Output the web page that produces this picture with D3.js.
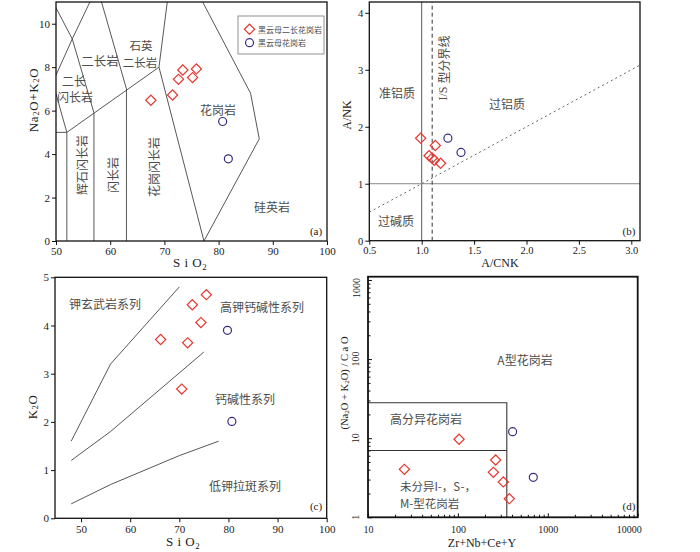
<!DOCTYPE html>
<html><head><meta charset="utf-8">
<script src="https://cdn.jsdelivr.net/npm/d3@7"></script>
<style>body{margin:0;background:#fff}</style>
</head><body>
<svg id="c" width="700" height="552"></svg>
<script>
// ---------- DATA ----------
// (a) TAS  SiO2 vs Na2O+K2O
const tasDiamonds = [[67.5,6.48],[71.5,6.72],[72.6,7.44],[73.4,7.87],[75.2,7.52],[75.9,7.92]];
const tasCircles  = [[80.75,5.5],[81.8,3.78]];
const tasLines = [
  [[52,0],[52,5],[50,5]],
  [[52,5],[69,8]],
  [[57,0],[57,5.9]],
  [[63,0],[63,7]],
  [[69,8],[77.3,0]],
  [[77.3,0],[87.5,4.7],[85.9,6.8],[71.8,13.5]],
  [[69,8],[71.8,13.5]],
  [[63,7],[57.6,11.7]],
  [[57,5.9],[53,9.3],[48.4,11.5]],
  [[49.4,7.3],[53,9.3],[57.6,11.7]],
  [[49.4,7.3],[52,5]]
];
const tasXTicks = [50,60,70,80,90,100];
const tasYTicks = [0,2,4,6,8,10];
// (b) A/CNK vs A/NK
const acnkDiamonds = [[0.99,1.80],[1.13,1.67],[1.07,1.49],[1.10,1.45],[1.12,1.41],[1.18,1.36]];
const acnkCircles  = [[1.25,1.80],[1.375,1.55]];
const acnkXTicks = [0.5,1.0,1.5,2.0,2.5,3.0];
const acnkYTicks = [0,1,2,3,4];
// (c) SiO2 vs K2O
const k2oDiamonds = [[66.2,3.71],[70.5,2.68],[71.7,3.64],[72.65,4.43],[74.4,4.06],[75.5,4.64]];
const k2oCircles  = [[79.8,3.90],[80.7,2.01]];
const k2oLines = [
  [[48,1.6],[56,3.2],[70,4.8]],
  [[48,1.2],[56,1.8],[75,3.45]],
  [[48,0.3],[56,0.7],[70,1.3],[78,1.6]]
];
const k2oXTicks = [50,60,70,80,90,100];
const k2oYTicks = [0,1,2,3,4,5];
// (d) Zr+Nb+Ce+Y vs (Na2O+K2O)/CaO
const whalenDiamonds = [[25.4,4.04],[103,9.7],[263,5.3],[248,3.7],[320,2.8],[373,1.72]];
const whalenCircles  = [[406,12.1],[690,3.2]];
const whalenFG  = [[10,28],[350,28],[350,1]];
const whalenOGT = [[10,7],[350,7]];
const whalenXTicks = [10,100,1000,10000];
const whalenYTicks = [1,10,100,1000];
const legendLabels = ["黑云母二长花岗岩","黑云母花岗岩"];

// ---------- DRAW ----------
const svg = d3.select('#c');
svg.append('rect').attr('width',700).attr('height',552).attr('fill','#fff');
const SERIF = '"Liberation Serif","Times New Roman",serif';
const CJK = '"Noto Sans CJK SC","Noto Sans",sans-serif';
const TXT = '#4d4d4d';
const RED = '#e8352d', BLUE = '#3c2b7e', LINE = '#555';
const fmtInt = d3.format('d');
let clipId = 0;

function panel(xs, ys){
  const g = svg.append('g');
  const [x0,x1] = xs.range(), [yb,yt] = ys.range();
  const id = 'clip'+(clipId++);
  g.append('clipPath').attr('id',id).append('rect')
    .attr('x',x0).attr('y',yt).attr('width',x1-x0).attr('height',yb-yt);
  const inner = g.append('g').attr('clip-path',`url(#${id})`);
  return {g, inner, x0, x1, yb, yt};
}
function frame(p, w){
  p.g.append('rect').attr('x',p.x0).attr('y',p.yt).attr('width',p.x1-p.x0).attr('height',p.yb-p.yt)
    .attr('fill','none').attr('stroke','#111').attr('stroke-width',w||1.3);
}
function styleAxis(sel, fs){
  sel.select('.domain').remove();
  sel.selectAll('line').attr('stroke','#111').attr('stroke-width',1);
  sel.selectAll('text').attr('font-family',SERIF).attr('font-size',fs).attr('fill','#222');
}
function lines(p, xs, ys, arr, color, width, dash){
  const ln = d3.line().x(d=>xs(d[0])).y(d=>ys(d[1]));
  p.inner.selectAll(null).data(arr).join('path').attr('d',ln)
    .attr('fill','none').attr('stroke',color||LINE).attr('stroke-width',width||0.9)
    .attr('stroke-dasharray',dash||null);
}
function diamonds(g, xs, ys, data){
  g.selectAll(null).data(data).join('path')
    .attr('d', d3.symbol(d3.symbolSquare, 52)())
    .attr('transform', d=>`translate(${xs(d[0])},${ys(d[1])}) rotate(45)`)
    .attr('fill','none').attr('stroke',RED).attr('stroke-width',1.2);
}
function circles(g, xs, ys, data){
  g.selectAll(null).data(data).join('circle')
    .attr('cx',d=>xs(d[0])).attr('cy',d=>ys(d[1])).attr('r',4)
    .attr('fill','none').attr('stroke',BLUE).attr('stroke-width',1.2);
}
function label(g, x, y, t, fs, rot, anchor){
  const el = g.append('text').attr('x',x).attr('y',y).text(t)
    .attr('font-family',CJK).attr('font-size',fs||12).attr('fill',TXT)
    .attr('text-anchor',anchor||'middle').attr('dominant-baseline','central');
  if (rot) el.attr('transform',`rotate(${rot},${x},${y})`);
  return el;
}
function plabel(g, x, y, t){
  g.append('text').attr('x',x).attr('y',y).text(t).attr('font-family',SERIF)
    .attr('font-size',11).attr('fill','#222').attr('text-anchor','middle').attr('dominant-baseline','central');
}
// formula text with subscripts: parts = [[text, sub?],...]
function formula(g, x, y, parts, fs, rot, ls){
  const el = g.append('text').attr('x',x).attr('y',y).attr('font-family',SERIF)
    .attr('font-size',fs).attr('fill','#222').attr('text-anchor','middle')
    .attr('letter-spacing', ls||0);
  let sub = false;
  parts.forEach(([t,s])=>{
    const ts = el.append('tspan').text(t);
    if (s && !sub){ ts.attr('dy', fs*0.25).attr('font-size', fs*0.68); sub = true; }
    else if (s){ ts.attr('font-size', fs*0.68); }
    else if (!s && sub){ ts.attr('dy', -fs*0.25); sub = false; }
  });
  if (rot) el.attr('transform',`rotate(${rot},${x},${y})`);
  return el;
}

// ===== (a) =====
{
  const xs = d3.scaleLinear([50,100],[56,327]);
  const ys = d3.scaleLinear([0,11],[241,2]);
  const p = panel(xs, ys);
  lines(p, xs, ys, tasLines, '#444', 0.9);
  const g = p.g;
  label(g, 74, 80, '二长'); label(g, 75, 96, '闪长岩');
  label(g, 100, 60, '二长岩', 12.5);
  label(g, 141, 45, '石英', 11.5); label(g, 140, 62, '二长岩', 11.5);
  label(g, 218, 109, '花岗岩');
  label(g, 272, 206, '硅英岩');
  label(g, 81, 165, '辉石闪长岩', 12, -90);
  label(g, 112, 175, '闪长岩', 12, -90);
  label(g, 153, 167, '花岗闪长岩', 12, -90);
  plabel(g, 316, 231, '(a)');
  diamonds(g, xs, ys, tasDiamonds);
  circles(g, xs, ys, tasCircles);
  // legend
  const lg = g.append('g');
  lg.append('rect').attr('x',238).attr('y',16).attr('width',86).attr('height',38)
    .attr('fill','#fff').attr('stroke','#777').attr('stroke-width',0.8);
  diamonds(lg, v=>v, v=>v, [[249.5,29.3]]);
  circles(lg, v=>v, v=>v, [[249.5,42.7]]);
  legendLabels.forEach((t,i)=> label(lg, 258, 29.3 + i*13.4, t, 8, 0, 'start'));
  frame(p);
  g.append('g').attr('transform','translate(0,241)')
    .call(d3.axisBottom(xs).tickValues(tasXTicks).tickFormat(fmtInt).tickSize(4).tickPadding(2)).call(s=>styleAxis(s,11));
  g.append('g').attr('transform','translate(56,0)')
    .call(d3.axisLeft(ys).tickValues(tasYTicks).tickFormat(fmtInt).tickSize(4).tickPadding(2)).call(s=>styleAxis(s,11));
  formula(g, 33, 100, [['Na'],['2',1],['O+K'],['2',1],['O']], 13, -90, 0.6).attr('dominant-baseline','central');
  formula(g, 190, 267, [['S i O'],['2',1]], 13, 0, 0.5);
}

// ===== (b) =====
{
  const xs = d3.scaleLinear([0.5,3.083],[369.3,640]);
  const ys = d3.scaleLinear([0,4.19],[240.7,2]);
  const p = panel(xs, ys);
  const g = p.g;
  lines(p, xs, ys, [[[1,0],[1,5]]], '#555', 1);
  lines(p, xs, ys, [[[0.5,1],[3.2,1]]], '#888', 1);
  lines(p, xs, ys, [[[1.1,0],[1.1,5]]], '#333', 1, '4,3');
  lines(p, xs, ys, [[[0.5,0.5],[3.2,3.2]]], '#666', 1, '2,3');
  label(g, 397, 92, '准铝质');
  label(g, 507, 103, '过铝质');
  label(g, 396, 220, '过碱质');
  const is = g.append('text').attr('x',443).attr('y',68).attr('font-family',CJK).attr('font-size',12)
    .attr('fill',TXT).attr('text-anchor','middle').attr('dominant-baseline','central')
    .attr('transform','rotate(-90,443,68)');
  is.append('tspan').text('I/S ').attr('font-family',SERIF);
  is.append('tspan').text('型分界线');
  plabel(g, 629, 231, '(b)');
  diamonds(g, xs, ys, acnkDiamonds);
  circles(g, xs, ys, acnkCircles);
  frame(p);
  g.append('g').attr('transform','translate(0,240.7)')
    .call(d3.axisBottom(xs).tickValues(acnkXTicks).tickFormat(d3.format('.1f')).tickSize(4).tickPadding(2)).call(s=>styleAxis(s,10.5));
  g.append('g').attr('transform','translate(369.3,0)')
    .call(d3.axisLeft(ys).tickValues(acnkYTicks).tickFormat(fmtInt).tickSize(4).tickPadding(2)).call(s=>styleAxis(s,10.5));
  formula(g, 347, 115, [['A/NK']], 12, -90).attr('dominant-baseline','central');
  formula(g, 500, 267, [['A/CNK']], 12);
}

// ===== (c) =====
{
  const xs = d3.scaleLinear([44.7,100],[55,326.7]);
  const ys = d3.scaleLinear([0,5],[518.3,277.3]);
  const p = panel(xs, ys);
  const g = p.g;
  lines(p, xs, ys, k2oLines, '#444', 0.9);
  label(g, 105, 303, '钾玄武岩系列');
  label(g, 262, 306, '高钾钙碱性系列');
  label(g, 245, 398, '钙碱性系列');
  label(g, 245, 485, '低钾拉斑系列');
  plabel(g, 316, 506, '(c)');
  diamonds(g, xs, ys, k2oDiamonds);
  circles(g, xs, ys, k2oCircles);
  frame(p);
  g.append('g').attr('transform','translate(0,518.3)')
    .call(d3.axisBottom(xs).tickValues(k2oXTicks).tickFormat(fmtInt).tickSize(4).tickPadding(3)).call(s=>styleAxis(s,11));
  g.append('g').attr('transform','translate(55,0)')
    .call(d3.axisLeft(ys).tickValues(k2oYTicks).tickFormat(fmtInt).tickSize(4).tickPadding(2)).call(s=>styleAxis(s,11));
  formula(g, 32, 407, [['K'],['2',1],['O']], 13, -90, 0.5).attr('dominant-baseline','central');
  formula(g, 183, 546, [['S i O'],['2',1]], 13, 0, 0.5);
}

// ===== (d) =====
{
  const xs = d3.scaleLog([10,10000],[368,637.7]);
  const ys = d3.scaleLog([1,1100],[517.3,276.7]);
  const p = panel(xs, ys);
  const g = p.g;
  lines(p, xs, ys, [whalenFG, whalenOGT], '#333', 1.1);
  label(g, 525, 359, 'A型花岗岩');
  label(g, 426, 418, '高分异花岗岩');
  label(g, 400, 486, '未分异I-，S-，', 11.5, 0, 'start');
  label(g, 400, 502.5, 'M-型花岗岩', 11.5, 0, 'start');
  plabel(g, 629, 506, '(d)');
  diamonds(g, xs, ys, whalenDiamonds);
  circles(g, xs, ys, whalenCircles);
  frame(p, 1.8);
  const minorX = [], minorY = [];
  for (let dcd=10; dcd<10000; dcd*=10) for (let k=2;k<10;k++) minorX.push(dcd*k);
  for (let dcd=1; dcd<1000; dcd*=10) for (let k=2;k<10;k++) minorY.push(dcd*k);
  g.append('g').attr('transform','translate(0,517.3)')
    .call(d3.axisBottom(xs).tickValues(minorX).tickFormat('').tickSize(-2.5)).call(s=>styleAxis(s,9.5));
  g.append('g').attr('transform','translate(0,517.3)')
    .call(d3.axisBottom(xs).tickValues(whalenXTicks).tickFormat(fmtInt).tickSize(-4).tickPadding(9))
    .call(s=>styleAxis(s,10))
    .call(s=>s.selectAll('text').attr('transform', d=> d===10000 ? 'translate(-9,0)' : null));
  g.append('g').attr('transform','translate(368,0)')
    .call(d3.axisLeft(ys).tickValues(minorY.filter(v=>v<1100)).tickFormat('').tickSize(-2.5)).call(s=>styleAxis(s,9.5));
  g.append('g').attr('transform','translate(368,0)')
    .call(d3.axisLeft(ys).tickValues(whalenYTicks).tickFormat('').tickSize(-4)).call(s=>styleAxis(s,9.5));
  whalenYTicks.forEach(v=>{
    const y = Math.max(ys(v), 288);
    g.append('text').attr('x',356).attr('y',y).text(fmtInt(v))
      .attr('font-family',SERIF).attr('font-size',10).attr('fill','#222')
      .attr('text-anchor','middle').attr('dominant-baseline','central')
      .attr('transform',`rotate(-90,356,${y})`);
  });
  formula(g, 344, 383, [['(Na'],['2',1],['O + K'],['2',1],['O)  / C a O']], 10.5, -90).attr('dominant-baseline','central');
  formula(g, 482, 547, [['Zr+Nb+Ce+Y']], 12);
}
</script>
</body></html>
